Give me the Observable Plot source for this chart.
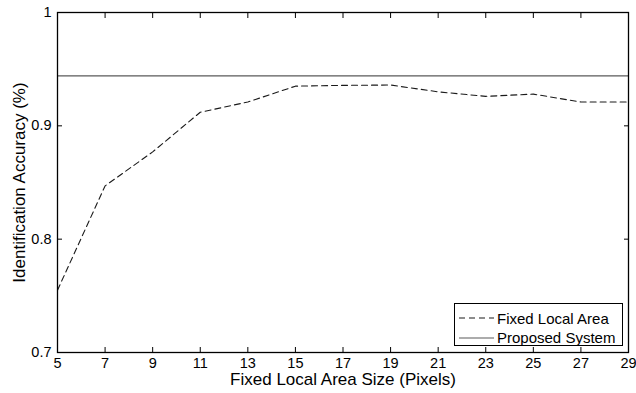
<!DOCTYPE html>
<html>
<head>
<meta charset="utf-8">
<script src="https://cdn.jsdelivr.net/npm/d3@7"></script>
<script src="https://cdn.jsdelivr.net/npm/@observablehq/plot@0.6"></script>
<style>
  html, body { margin: 0; padding: 0; background: #fff; }
  #chart { position: relative; width: 636px; height: 393px; font-family: "Liberation Sans", Arial, Helvetica, sans-serif; }
  #chart svg g[aria-label$="tick label"] text, #chart svg g[aria-label$="tick label"] { font-size: 14.5px !important; }
  #legend { position: absolute; left: 454px; top: 303px; width: 167px; height: 41px; border: 1px solid #000; background: #fff; }
  #legend .row { position: absolute; left: 0; height: 20px; display: flex; align-items: center; font-size: 15px; color: #000; }
  #legend svg { display: block; margin-left: 4px; margin-right: 3px; }
</style>
</head>
<body>
<div id="chart"></div>
<script>
// Data
const sizes = [5, 7, 9, 11, 13, 15, 17, 19, 21, 23, 25, 27, 29];
const fixedAccuracy = [0.755, 0.847, 0.877, 0.912, 0.921, 0.935, 0.9357, 0.936, 0.930, 0.926, 0.928, 0.921, 0.921];
const proposedAccuracy = [0.944];
const xTicks = [5, 7, 9, 11, 13, 15, 17, 19, 21, 23, 25, 27, 29];
const yTicks = [0.7, 0.8, 0.9, 1];
const seriesNames = ["Fixed Local Area", "Proposed System"];
const xTitle = "Fixed Local Area Size (Pixels)";
const yTitle = "Identification Accuracy (%)";

const fixedData = sizes.map((s, i) => ({size: s, acc: fixedAccuracy[i]}));
const font = "Liberation Sans, Arial, Helvetica, sans-serif";

const plot = Plot.plot({
  width: 636,
  height: 393,
  marginLeft: 57,
  marginRight: 8,
  marginTop: 12,
  marginBottom: 41,
  style: {fontFamily: font, fontSize: "15px", background: "white", color: "black", overflow: "visible"},
  x: {domain: [5, 29]},
  y: {domain: [0.7, 1]},
  marks: [
    Plot.ruleY(proposedAccuracy, {stroke: "#5a5a5a", strokeWidth: 1.2}),
    Plot.line(fixedData, {x: "size", y: "acc", stroke: "#1a1a1a", strokeWidth: 1.1, strokeDasharray: "6,4"}),
    // inward ticks on all four sides
    Plot.axisX(xTicks, {anchor: "bottom", tickSize: -5, text: null, label: null}),
    Plot.axisX(xTicks, {anchor: "top", tickSize: -5, text: null, label: null}),
    Plot.axisY(yTicks, {anchor: "left", tickSize: -5, text: null, label: null}),
    Plot.axisY(yTicks, {anchor: "right", tickSize: -5, text: null, label: null}),
    // tick labels
    Plot.axisX(xTicks, {anchor: "bottom", tickSize: 0, tickPadding: 5, label: null, tickFormat: d => String(d)}),
    Plot.axisY(yTicks, {anchor: "left", tickSize: 0, tickPadding: 6, label: null, tickFormat: d => String(d)}),
    Plot.frame({stroke: "black", strokeWidth: 1.3}),
    Plot.text([xTitle], {frameAnchor: "bottom", textAnchor: "middle", dy: 32, fontSize: 17, fill: "black"}),
    Plot.text([yTitle], {frameAnchor: "left", textAnchor: "middle", rotate: -90, dx: -38, fontSize: 17, fill: "black"})
  ]
});

const chart = document.getElementById("chart");
chart.appendChild(plot);

const legend = document.createElement("div");
legend.id = "legend";
const styles = [
  {stroke: "#1a1a1a", dash: "6,4"},
  {stroke: "#5a5a5a", dash: null}
];
seriesNames.forEach((name, i) => {
  const row = document.createElement("div");
  row.className = "row";
  row.style.top = (4 + i * 19.5) + "px";
  const ns = "http://www.w3.org/2000/svg";
  const svg = document.createElementNS(ns, "svg");
  svg.setAttribute("width", "35");
  svg.setAttribute("height", "10");
  const ln = document.createElementNS(ns, "line");
  ln.setAttribute("x1", "0"); ln.setAttribute("x2", "35");
  ln.setAttribute("y1", "5"); ln.setAttribute("y2", "5");
  ln.setAttribute("stroke", styles[i].stroke);
  ln.setAttribute("stroke-width", "1.1");
  if (styles[i].dash) ln.setAttribute("stroke-dasharray", styles[i].dash);
  svg.appendChild(ln);
  row.appendChild(svg);
  const span = document.createElement("span");
  span.textContent = name;
  row.appendChild(span);
  legend.appendChild(row);
});
chart.appendChild(legend);
</script>
</body>
</html>
